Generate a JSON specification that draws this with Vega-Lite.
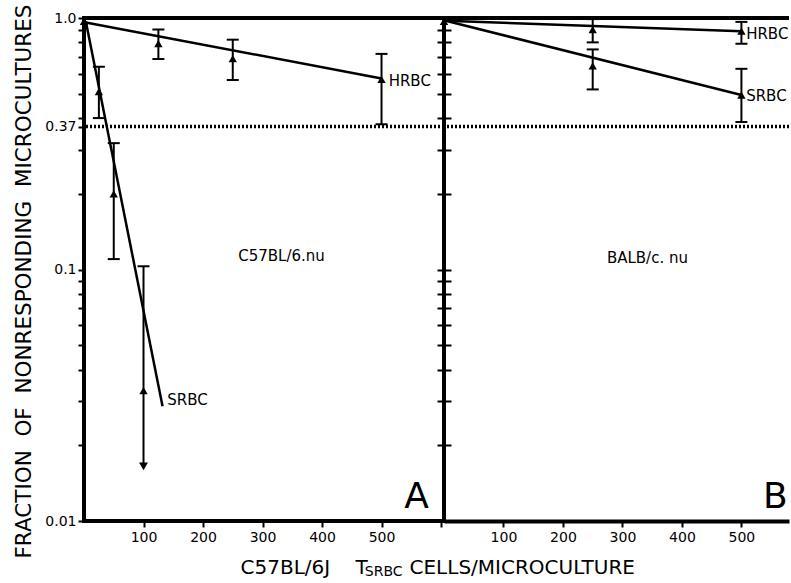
{
"$schema":"https://vega.github.io/schema/vega-lite/v6.json",
"padding":{"left":10,"top":2,"right":0,"bottom":0},
"spacing":0,
"bounds":"flush",
"config":{"view":{"stroke":null},"font":"DejaVu Sans","axis":{"labelFont":"DejaVu Sans","labelFontSize":14,"labelColor":"black","tickColor":"black","tickWidth":2,"domain":false,"grid":false,"titleFont":"DejaVu Sans","titleFontSize":20,"titleFontWeight":"normal","titleColor":"black"},"text":{"font":"DejaVu Sans","color":"black"}},
"datasets":{
"pts":[
{"panel":"A","series":"HRBC","x":0,"y":0.97},
{"panel":"A","series":"HRBC","x":125,"y":0.79,"lo":0.687,"hi":0.9},
{"panel":"A","series":"HRBC","x":250,"y":0.69,"lo":0.567,"hi":0.82},
{"panel":"A","series":"HRBC","x":500,"y":0.57,"lo":0.378,"hi":0.72},
{"panel":"A","series":"SRBC","x":25,"y":0.51,"lo":0.4,"hi":0.64},
{"panel":"A","series":"SRBC","x":50,"y":0.2,"lo":0.11,"hi":0.318},
{"panel":"A","series":"SRBC","x":100,"y":0.033,"lo":0.0165,"hi":0.103,"arrow":true},
{"panel":"B","series":"HRBC","x":0,"y":0.97},
{"panel":"B","series":"HRBC","x":250,"y":0.9,"lo":0.8,"hi":0.99},
{"panel":"B","series":"HRBC","x":500,"y":0.887,"lo":0.79,"hi":0.965},
{"panel":"B","series":"SRBC","x":250,"y":0.645,"lo":0.52,"hi":0.75},
{"panel":"B","series":"SRBC","x":500,"y":0.494,"lo":0.386,"hi":0.628}
],
"fits":[
{"panel":"A","series":"HRBC","x":3,"y":0.96},
{"panel":"A","series":"HRBC","x":500,"y":0.575},
{"panel":"A","series":"SRBC","x":3,"y":0.97},
{"panel":"A","series":"SRBC","x":132,"y":0.0286},
{"panel":"B","series":"HRBC","x":3,"y":0.975},
{"panel":"B","series":"HRBC","x":500,"y":0.885},
{"panel":"B","series":"SRBC","x":3,"y":0.975},
{"panel":"B","series":"SRBC","x":500,"y":0.494}
],
"labels":[
{"panel":"A","x":512,"y":0.56,"text":"HRBC"},
{"panel":"A","x":140,"y":0.0303,"text":"SRBC"},
{"panel":"B","x":508,"y":0.865,"text":"HRBC"},
{"panel":"B","x":508,"y":0.49,"text":"SRBC"}
],
"strains":[
{"panel":"A","x":332,"y":0.113,"text":"C57BL/6.nu"},
{"panel":"B","x":342,"y":0.111,"text":"BALB/c. nu"}
],
"letters":[
{"panel":"A","x":559,"y":0.0113,"text":"A"},
{"panel":"B","x":557,"y":0.0113,"text":"B"}
],
"sub":[{"x":472,"y":0.01,"text":"SRBC"}]
},
"hconcat":[
{
"width":360,"height":503,
"view":{"stroke":"black","strokeWidth":4},
"layer":[
{"data":{"values":[{}]},"mark":{"type":"rule","strokeDash":[2,2],"strokeWidth":3.5,"color":"black"},
 "encoding":{"y":{"datum":0.37,"type":"quantitative","scale":{"type":"log","domain":[0.01,1],"nice":false}}}},
{"data":{"name":"fits"},"transform":[{"filter":"datum.panel === 'A'"}],"mark":{"type":"line","color":"black","strokeWidth":2.5},
 "encoding":{"x":{"field":"x","type":"quantitative","scale":{"domain":[0,605],"nice":false,"zero":false}},
  "y":{"field":"y","type":"quantitative","scale":{"type":"log","domain":[0.01,1],"nice":false}},
  "detail":{"field":"series"}}},
{"data":{"name":"pts"},"transform":[{"filter":"datum.panel === 'A' && isValid(datum.hi)"}],"mark":{"type":"rule","color":"black","strokeWidth":2},
 "encoding":{"x":{"field":"x","type":"quantitative","scale":{"domain":[0,605],"nice":false,"zero":false}},
  "y":{"field":"lo","type":"quantitative","scale":{"type":"log","domain":[0.01,1],"nice":false}},
  "y2":{"field":"hi"}}},
{"data":{"name":"pts"},"transform":[{"filter":"datum.panel === 'A' && isValid(datum.hi)"}],"mark":{"type":"point","shape":"stroke","size":144,"color":"black","strokeWidth":2,"opacity":1},
 "encoding":{"x":{"field":"x","type":"quantitative","scale":{"domain":[0,605],"nice":false,"zero":false}},
  "y":{"field":"hi","type":"quantitative","scale":{"type":"log","domain":[0.01,1],"nice":false}}}},
{"data":{"name":"pts"},"transform":[{"filter":"datum.panel === 'A' && isValid(datum.lo) && datum.arrow !== true"}],"mark":{"type":"point","shape":"stroke","size":144,"color":"black","strokeWidth":2,"opacity":1},
 "encoding":{"x":{"field":"x","type":"quantitative","scale":{"domain":[0,605],"nice":false,"zero":false}},
  "y":{"field":"lo","type":"quantitative","scale":{"type":"log","domain":[0.01,1],"nice":false}}}},
{"data":{"name":"pts"},"transform":[{"filter":"datum.panel === 'A' && datum.arrow === true"}],"mark":{"type":"point","shape":"triangle-down","size":80,"filled":true,"color":"black","opacity":1},
 "encoding":{"x":{"field":"x","type":"quantitative","scale":{"domain":[0,605],"nice":false,"zero":false}},
  "y":{"field":"lo","type":"quantitative","scale":{"type":"log","domain":[0.01,1],"nice":false}}}},
{"data":{"name":"pts"},"transform":[{"filter":"datum.panel === 'A'"}],"mark":{"type":"point","shape":"triangle-up","size":70,"filled":true,"color":"black","opacity":1},
 "encoding":{"x":{"field":"x","type":"quantitative","scale":{"domain":[0,605],"nice":false,"zero":false},
   "axis":{"values":[100,200,300,400,500,600],"labelExpr":"datum.value >= 600 ? '' : datum.label","tickSize":6,"labelPadding":3,"labelFlush":false,"labelOverlap":false,
     "title":"C57BL/6J\u00a0\u00a0\u00a0\u00a0T","titleX":156,"titleY":52,"titleAlign":"left","titleBaseline":"alphabetic","titleAnchor":"start"}},
  "y":{"field":"y","type":"quantitative","scale":{"type":"log","domain":[0.01,1],"nice":false},
   "axis":{"values":[0.01,0.02,0.03,0.04,0.05,0.06,0.07,0.08,0.09,0.1,0.2,0.3,0.37,0.4,0.5,0.6,0.7,0.8,0.9,1],
     "labelExpr":"datum.value == 1 ? '1.0' : (datum.value == 0.37 ? '0.37' : (datum.value == 0.1 ? '0.1' : (datum.value == 0.01 ? '0.01' : '')))",
     "labelOverlap":false,"labelPadding":2,"tickSize":6,
     "title":"FRACTION\u00a0\u00a0OF\u00a0\u00a0NONRESPONDING\u00a0\u00a0MICROCULTURES","titleFontSize":21.5,"titleX":-54,"titleY":263,"titleBaseline":"alphabetic","titleAlign":"center","titleAngle":270}}}},
{"data":{"name":"labels"},"transform":[{"filter":"datum.panel === 'A'"}],"mark":{"type":"text","align":"left","baseline":"middle","fontSize":15},
 "encoding":{"x":{"field":"x","type":"quantitative","scale":{"domain":[0,605],"nice":false,"zero":false}},
  "y":{"field":"y","type":"quantitative","scale":{"type":"log","domain":[0.01,1],"nice":false}},
  "text":{"field":"text"}}},
{"data":{"name":"strains"},"transform":[{"filter":"datum.panel === 'A'"}],"mark":{"type":"text","align":"center","baseline":"middle","fontSize":15},
 "encoding":{"x":{"field":"x","type":"quantitative","scale":{"domain":[0,605],"nice":false,"zero":false}},
  "y":{"field":"y","type":"quantitative","scale":{"type":"log","domain":[0.01,1],"nice":false}},
  "text":{"field":"text"}}},
{"data":{"name":"letters"},"transform":[{"filter":"datum.panel === 'A'"}],"mark":{"type":"text","align":"center","baseline":"alphabetic","fontSize":36},
 "encoding":{"x":{"field":"x","type":"quantitative","scale":{"domain":[0,605],"nice":false,"zero":false}},
  "y":{"field":"y","type":"quantitative","scale":{"type":"log","domain":[0.01,1],"nice":false}},
  "text":{"field":"text"}}},
{"data":{"name":"sub"},"mark":{"type":"text","align":"left","baseline":"alphabetic","fontSize":14,"dy":55},
 "encoding":{"x":{"field":"x","type":"quantitative","scale":{"domain":[0,605],"nice":false,"zero":false}},
  "y":{"field":"y","type":"quantitative","scale":{"type":"log","domain":[0.01,1],"nice":false}},
  "text":{"field":"text"}}}
]
},
{
"width":345,"height":503,
"layer":[
{"data":{"values":[{}]},"mark":{"type":"rule","strokeWidth":4,"color":"black"},
 "encoding":{"y":{"datum":1,"type":"quantitative","scale":{"type":"log","domain":[0.01,1],"nice":false}}}},
{"data":{"values":[{}]},"mark":{"type":"rule","strokeDash":[2,2],"strokeWidth":3.5,"color":"black"},
 "encoding":{"y":{"datum":0.37,"type":"quantitative","scale":{"type":"log","domain":[0.01,1],"nice":false}}}},
{"data":{"name":"fits"},"transform":[{"filter":"datum.panel === 'B'"}],"mark":{"type":"line","color":"black","strokeWidth":2.5},
 "encoding":{"x":{"field":"x","type":"quantitative","scale":{"domain":[0,580],"nice":false,"zero":false}},
  "y":{"field":"y","type":"quantitative","scale":{"type":"log","domain":[0.01,1],"nice":false}},
  "detail":{"field":"series"}}},
{"data":{"name":"pts"},"transform":[{"filter":"datum.panel === 'B' && isValid(datum.hi)"}],"mark":{"type":"rule","color":"black","strokeWidth":2},
 "encoding":{"x":{"field":"x","type":"quantitative","scale":{"domain":[0,580],"nice":false,"zero":false}},
  "y":{"field":"lo","type":"quantitative","scale":{"type":"log","domain":[0.01,1],"nice":false}},
  "y2":{"field":"hi"}}},
{"data":{"name":"pts"},"transform":[{"filter":"datum.panel === 'B' && isValid(datum.hi)"}],"mark":{"type":"point","shape":"stroke","size":144,"color":"black","strokeWidth":2,"opacity":1},
 "encoding":{"x":{"field":"x","type":"quantitative","scale":{"domain":[0,580],"nice":false,"zero":false}},
  "y":{"field":"hi","type":"quantitative","scale":{"type":"log","domain":[0.01,1],"nice":false}}}},
{"data":{"name":"pts"},"transform":[{"filter":"datum.panel === 'B' && isValid(datum.lo)"}],"mark":{"type":"point","shape":"stroke","size":144,"color":"black","strokeWidth":2,"opacity":1},
 "encoding":{"x":{"field":"x","type":"quantitative","scale":{"domain":[0,580],"nice":false,"zero":false}},
  "y":{"field":"lo","type":"quantitative","scale":{"type":"log","domain":[0.01,1],"nice":false}}}},
{"data":{"name":"pts"},"transform":[{"filter":"datum.panel === 'B'"}],"mark":{"type":"point","shape":"triangle-up","size":70,"filled":true,"color":"black","opacity":1},
 "encoding":{"x":{"field":"x","type":"quantitative","scale":{"domain":[0,580],"nice":false,"zero":false},
   "axis":{"values":[100,200,300,400,500],"tickSize":6,"labelPadding":3,"labelFlush":false,"labelOverlap":false,"domain":true,"domainWidth":4,"domainColor":"black",
     "title":"CELLS/MICROCULTURE","titleX":-35,"titleY":52,"titleAlign":"left","titleBaseline":"alphabetic","titleAnchor":"start"}},
  "y":{"field":"y","type":"quantitative","scale":{"type":"log","domain":[0.01,1],"nice":false},
   "axis":{"values":[0.01,0.02,0.03,0.04,0.05,0.06,0.07,0.08,0.09,0.1,0.2,0.3,0.4,0.5,0.6,0.7,0.8,0.9,1],"labels":false,"tickSize":14,"offset":-7,"title":null}}}},
{"data":{"name":"labels"},"transform":[{"filter":"datum.panel === 'B'"}],"mark":{"type":"text","align":"left","baseline":"middle","fontSize":15},
 "encoding":{"x":{"field":"x","type":"quantitative","scale":{"domain":[0,580],"nice":false,"zero":false}},
  "y":{"field":"y","type":"quantitative","scale":{"type":"log","domain":[0.01,1],"nice":false}},
  "text":{"field":"text"}}},
{"data":{"name":"strains"},"transform":[{"filter":"datum.panel === 'B'"}],"mark":{"type":"text","align":"center","baseline":"middle","fontSize":15},
 "encoding":{"x":{"field":"x","type":"quantitative","scale":{"domain":[0,580],"nice":false,"zero":false}},
  "y":{"field":"y","type":"quantitative","scale":{"type":"log","domain":[0.01,1],"nice":false}},
  "text":{"field":"text"}}},
{"data":{"name":"letters"},"transform":[{"filter":"datum.panel === 'B'"}],"mark":{"type":"text","align":"center","baseline":"alphabetic","fontSize":36},
 "encoding":{"x":{"field":"x","type":"quantitative","scale":{"domain":[0,580],"nice":false,"zero":false}},
  "y":{"field":"y","type":"quantitative","scale":{"type":"log","domain":[0.01,1],"nice":false}},
  "text":{"field":"text"}}}
]
}
]
}
